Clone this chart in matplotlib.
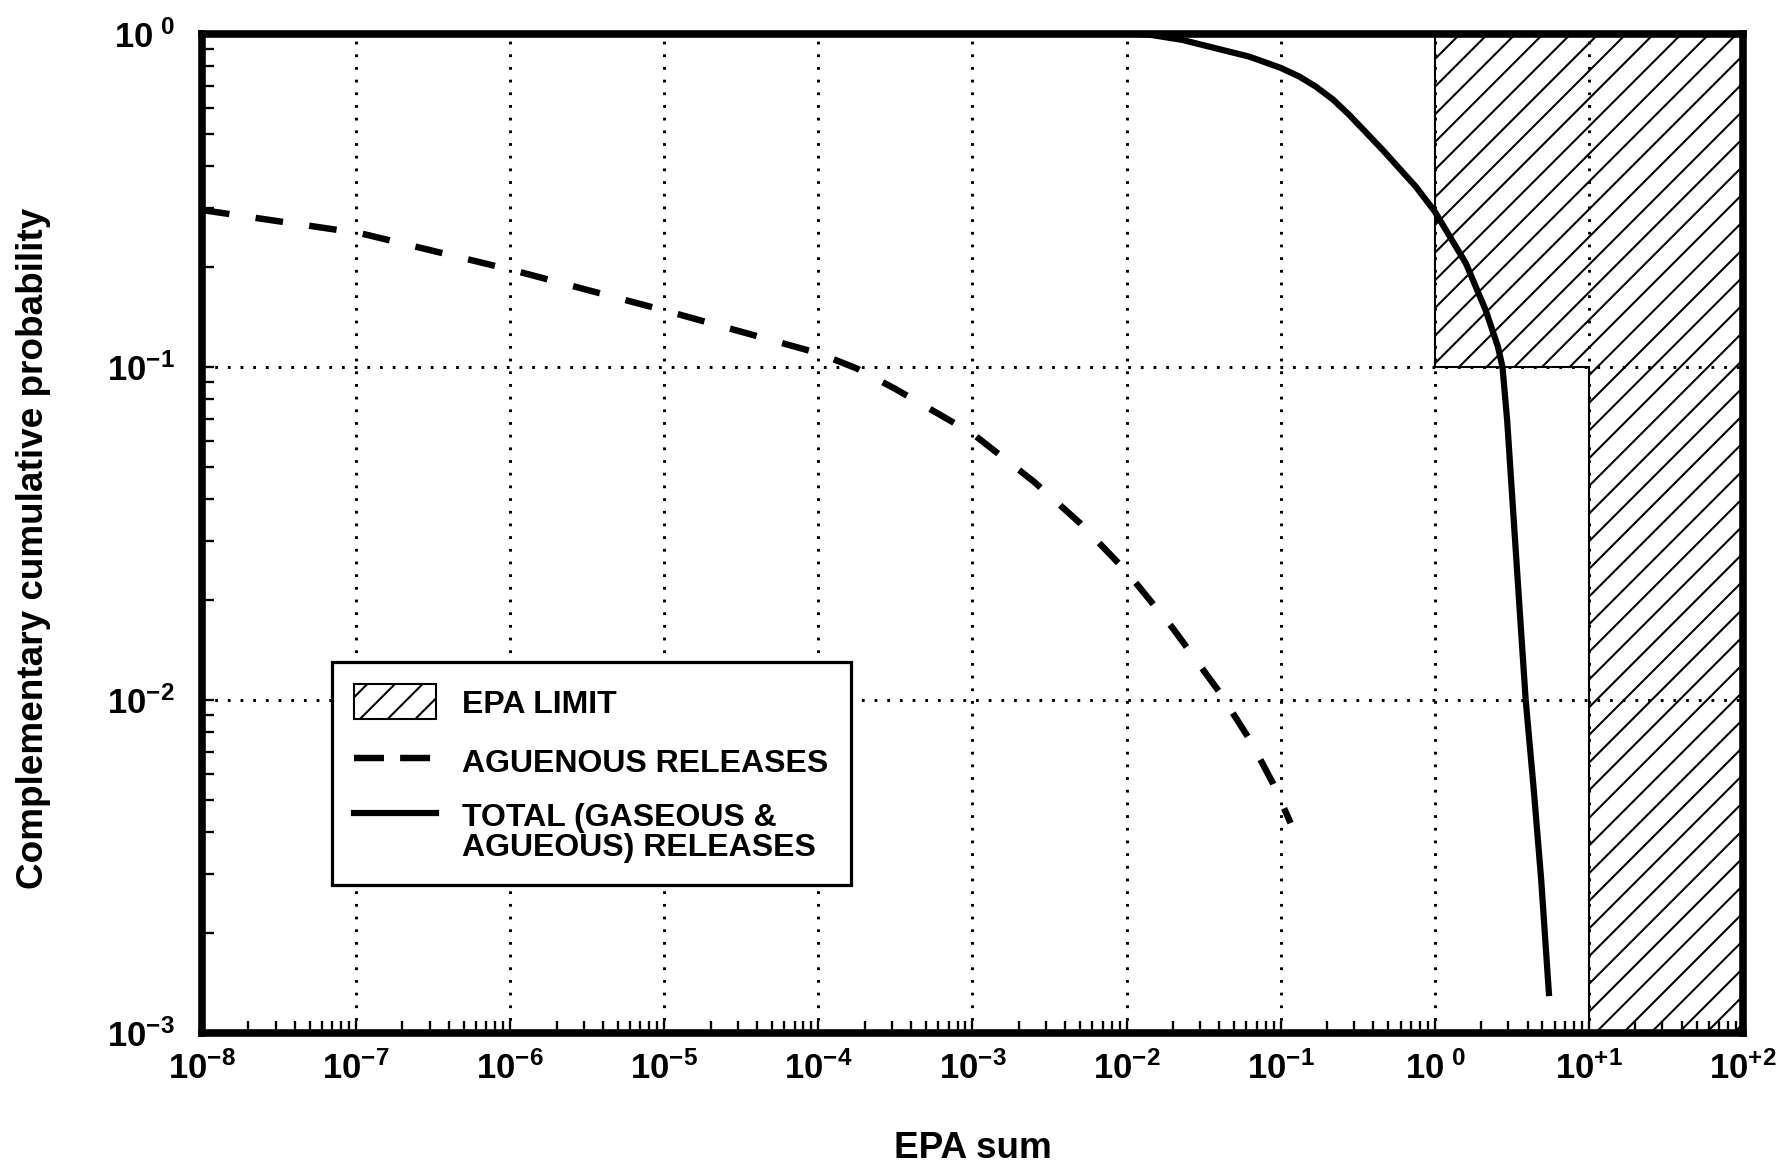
import matplotlib
matplotlib.use("Agg")
import matplotlib.pyplot as plt
from matplotlib.ticker import FixedLocator, LogLocator, NullFormatter
from matplotlib.lines import Line2D
from matplotlib.patches import Patch
from matplotlib.legend_handler import HandlerLine2D

plt.rcParams['font.family'] = ['Liberation Sans', 'DejaVu Sans']
plt.rcParams['font.weight'] = 'bold'
plt.rcParams['lines.scale_dashes'] = False
plt.rcParams['hatch.linewidth'] = 0.9
plt.rcParams['mathtext.fontset'] = 'custom'
plt.rcParams['mathtext.rm'] = 'Liberation Sans:bold'
plt.rcParams['mathtext.it'] = 'Liberation Sans:bold'
plt.rcParams['mathtext.bf'] = 'Liberation Sans:bold'
plt.rcParams['mathtext.sf'] = 'Liberation Sans:bold'

# ---------------- data ----------------
aqueous_x = [1.0e-8, 1.07e-7, 1.10e-6, 1.05e-5, 1.0e-4, 1.78e-4, 3.16e-4, 1.0e-3,
             2.51e-3, 5.01e-3, 1.0e-2, 2.0e-2, 3.98e-2, 6.31e-2, 8.91e-2, 1.16e-1]
aqueous_y = [0.296, 0.252, 0.194, 0.147, 0.110, 0.0989, 0.0859, 0.0631,
             0.0452, 0.0339, 0.0243, 0.0164, 0.0106, 0.00759, 0.00562, 0.00427]

total_x = [0.0112, 0.0141, 0.0229, 0.0625, 0.1, 0.132, 0.169, 0.219, 0.279, 0.458,
           0.753, 1.0, 1.59, 2.14, 2.57, 2.75, 2.95, 3.52, 3.89, 4.37, 4.90, 5.52]
total_y = [1.0, 0.995, 0.96, 0.855, 0.791, 0.745, 0.695, 0.635, 0.571, 0.449,
           0.348, 0.293, 0.205, 0.148, 0.115, 0.100, 0.069, 0.020, 0.010, 0.0055,
           0.0029, 0.00129]

epa_limit_x = [1, 1, 10, 10, 100, 100]
epa_limit_y = [1, 0.1, 0.1, 1e-3, 1e-3, 1]

x_ticks = [1e-8, 1e-7, 1e-6, 1e-5, 1e-4, 1e-3, 1e-2, 1e-1, 1e0, 1e1, 1e2]
x_tick_labels = [r'$\mathregular{10^{-8}}$', r'$\mathregular{10^{-7}}$', r'$\mathregular{10^{-6}}$',
                 r'$\mathregular{10^{-5}}$', r'$\mathregular{10^{-4}}$', r'$\mathregular{10^{-3}}$',
                 r'$\mathregular{10^{-2}}$', r'$\mathregular{10^{-1}}$', r'$\mathregular{10^{\ 0}}$',
                 r'$\mathregular{10^{+1}}$', r'$\mathregular{10^{+2}}$']
y_ticks = [1e-3, 1e-2, 1e-1, 1e0]
y_tick_labels = [r'$\mathregular{10^{-3}}$', r'$\mathregular{10^{-2}}$',
                 r'$\mathregular{10^{-1}}$', r'$\mathregular{10^{\ 0}}$']

legend_labels = ['EPA LIMIT', 'AGUENOUS RELEASES', 'TOTAL (GASEOUS &\nAGUEOUS) RELEASES']
x_label = 'EPA sum'
y_label = 'Complementary cumulative probability'


class RaisedLineHandler(HandlerLine2D):
    """Line handle drawn level with the first line of a two-line label."""
    def __init__(self, raise_pts, **kw):
        super().__init__(**kw)
        self.raise_pts = raise_pts

    def create_artists(self, legend, orig_handle, xdescent, ydescent,
                       width, height, fontsize, trans):
        return super().create_artists(legend, orig_handle, xdescent,
                                      ydescent - 2 * self.raise_pts,
                                      width, height, fontsize, trans)


# ---------------- figure ----------------
DPI = 166
fig = plt.figure(figsize=(1778 / DPI, 1163 / DPI), dpi=DPI)
ax = fig.add_axes([0.1136, 0.1118, 0.8667, 0.859])

ax.set_xscale('log')
ax.set_yscale('log')
ax.set_xlim(1e-8, 1e2)
ax.set_ylim(1e-3, 1e0)

ax.fill(epa_limit_x, epa_limit_y, facecolor='none', edgecolor='black',
        hatch='//', linewidth=0.9, zorder=1.5)

ax.plot(aqueous_x, aqueous_y, color='black', linewidth=2.8,
        dashes=(12.0, 11.5), zorder=3)
ax.plot(total_x, total_y, color='black', linewidth=2.7, zorder=3,
        solid_capstyle='butt', solid_joinstyle='round')

ax.xaxis.set_major_locator(FixedLocator(x_ticks))
ax.set_xticklabels(x_tick_labels)
ax.yaxis.set_major_locator(FixedLocator(y_ticks))
ax.set_yticklabels(y_tick_labels)
ax.xaxis.set_minor_locator(LogLocator(base=10, subs=range(2, 10), numticks=100))
ax.yaxis.set_minor_locator(LogLocator(base=10, subs=range(2, 10), numticks=100))
ax.xaxis.set_minor_formatter(NullFormatter())
ax.yaxis.set_minor_formatter(NullFormatter())

ax.tick_params(which='both', direction='in', top=False, right=False,
               length=5, width=1.0, color='black')
ax.tick_params(axis='x', which='major', labelsize=15, pad=8)
ax.tick_params(axis='y', which='major', labelsize=15, pad=12)

ax.grid(True, which='major', color='black', linestyle=(0, (1.2, 4.3)), linewidth=1.3)
ax.set_axisbelow(True)

for sp in ax.spines.values():
    sp.set_linewidth(3.3)
    sp.set_zorder(4)

ax.set_xlabel(x_label, fontsize=16, fontweight='bold')
ax.xaxis.set_label_coords(0.5, -0.098)
ax.set_ylabel(y_label, fontsize=16, fontweight='bold')
ax.yaxis.set_label_coords(-0.098, 0.4855)

handles = [Patch(facecolor='white', edgecolor='black', hatch='//', linewidth=0.9),
           Line2D([], [], color='black', linewidth=2.8, dashes=(13.0, 7.0)),
           Line2D([], [], color='black', linewidth=2.7)]
leg = ax.legend(handles, legend_labels, loc='upper left', bbox_to_anchor=(0.0844, 0.3714),
                borderaxespad=0, frameon=True, fancybox=False, edgecolor='black',
                framealpha=1, prop={'weight': 'bold', 'size': 13.9},
                handlelength=2.55, handleheight=1.3, handletextpad=0.8,
                borderpad=0.7, labelspacing=0.75,
                handler_map={handles[2]: RaisedLineHandler(7.4)})
leg.get_frame().set_linewidth(1.4)
leg.set_zorder(5)
for t in leg.get_texts():
    t.set_linespacing(1.0)

fig.savefig('out.png', dpi=DPI)
